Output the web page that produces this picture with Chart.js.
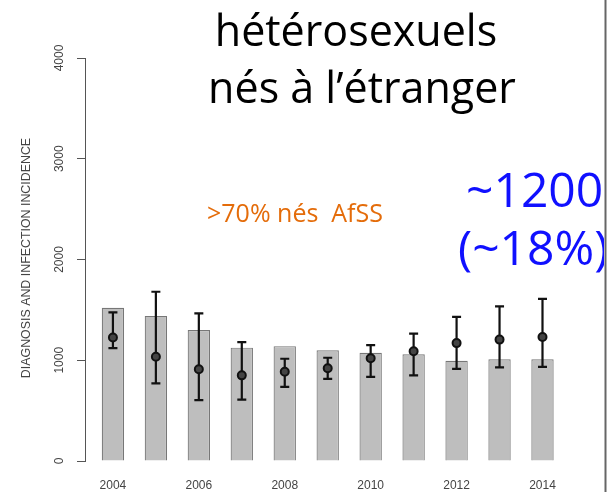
<!DOCTYPE html>
<html>
<head>
<meta charset="utf-8">
<script src="https://cdn.jsdelivr.net/npm/chart.js@4.4.1/dist/chart.umd.min.js"></script>
<style>
  html, body { margin: 0; padding: 0; background: #fff; }
  #wrap { width: 615px; height: 492px; position: relative; }
</style>
</head>
<body>
<div id="wrap"><canvas id="chart" width="615" height="492"></canvas></div>
<script>
// data
const years = [2004, 2005, 2006, 2007, 2008, 2009, 2010, 2011, 2012, 2013, 2014];
const diagnoses = [1520, 1440, 1300, 1125, 1140, 1100, 1075, 1060, 995, 1010, 1010];
const incidence = [1225, 1035, 910, 850, 885, 920, 1020, 1090, 1170, 1205, 1230];
const incLow = [1120, 770, 605, 610, 735, 815, 835, 850, 915, 930, 935];
const incHigh = [1475, 1680, 1465, 1180, 1015, 1025, 1150, 1265, 1430, 1535, 1610];
const xTickYears = [2004, 2006, 2008, 2010, 2012, 2014];
const yTicks = [0, 1000, 2000, 3000, 4000];

const titleLines = ['hétérosexuels', 'nés à l\u2019étranger'];
const yTitle = 'DIAGNOSIS AND INFECTION INCIDENCE';

const axisGray = '#555';

// error bars under the points
const errorBars = {
    id: 'errorBars',
    beforeDatasetDraw(chart, args) {
        if (args.index !== 1) return;
        const ctx = chart.ctx;
        const xs = chart.scales.x, ys = chart.scales.y;
        ctx.save();
        ctx.strokeStyle = '#111';
        ctx.lineWidth = 2.2;
        years.forEach((yr, i) => {
            const x = xs.getPixelForValue(yr);
            const y1 = ys.getPixelForValue(incLow[i]);
            const y2 = ys.getPixelForValue(incHigh[i]);
            ctx.beginPath();
            ctx.moveTo(x, y1); ctx.lineTo(x, y2);
            ctx.moveTo(x - 4.5, y1); ctx.lineTo(x + 4.5, y1);
            ctx.moveTo(x - 4.5, y2); ctx.lineTo(x + 4.5, y2);
            ctx.stroke();
        });
        ctx.restore();
    }
};

// rotated y labels, axis title, slide texts
const decorations = {
    id: 'decorations',
    afterDraw(chart) {
        const ctx = chart.ctx;
        const ys = chart.scales.y;
        ctx.save();

        ctx.fillStyle = '#444';
        ctx.font = '12px "Liberation Sans"';
        ctx.textAlign = 'center';
        ctx.textBaseline = 'middle';
        yTicks.forEach(v => {
            ctx.save();
            ctx.translate(60, ys.getPixelForValue(v));
            ctx.rotate(-Math.PI / 2);
            ctx.fillText(String(v), 0, 0);
            ctx.restore();
        });

        ctx.save();
        ctx.font = '12.4px "Liberation Sans"';
        ctx.translate(27, 258);
        ctx.rotate(-Math.PI / 2);
        ctx.fillText(yTitle, 0, 0);
        ctx.restore();

        // title
        ctx.fillStyle = '#000';
        ctx.font = '43px "Open Sans"';
        ctx.textBaseline = 'alphabetic';
        ctx.fillText(titleLines[0], 356, 46);
        ctx.fillText(titleLines[1], 362, 103);

        ctx.fillStyle = '#e46c0a';
        ctx.font = '25px "Open Sans"';
        ctx.textAlign = 'left';
        ctx.fillText('>70% nés  AfSS', 207, 222);

        // blue note, cut by the slide edge
        ctx.save();
        ctx.beginPath();
        ctx.rect(0, 0, 604, 492);
        ctx.clip();
        ctx.fillStyle = '#1010ff';
        ctx.font = '48px "Open Sans"';
        ctx.fillText('~1200', 466, 207);
        ctx.fillText('(~18%)', 458, 265);
        ctx.restore();

        ctx.strokeStyle = '#666';
        ctx.lineWidth = 2;
        ctx.beginPath();
        ctx.moveTo(605.5, 0); ctx.lineTo(605.5, 492);
        ctx.stroke();

        ctx.restore();
    }
};

const ctx = document.getElementById('chart').getContext('2d');

new Chart(ctx, {
    type: 'bar',
    data: {
        datasets: [{
            type: 'bar',
            label: 'Diagnoses',
            data: years.map((yr, i) => ({ x: yr, y: diagnoses[i] })),
            backgroundColor: '#bebebe',
            borderColor: '#777',
            borderWidth: 1.2,
            barPercentage: 0.52,
            categoryPercentage: 1,
            order: 2
        }, {
            type: 'line',
            label: 'Incidence',
            data: years.map((yr, i) => ({ x: yr, y: incidence[i] })),
            showLine: false,
            pointRadius: 4,
            pointBackgroundColor: '#444',
            pointBorderColor: '#111',
            pointBorderWidth: 2,
            order: 1
        }]
    },
    options: {
        responsive: false,
        animation: false,
        layout: { padding: { top: 58, right: 35, left: 0, bottom: 0 } },
        plugins: {
            legend: { display: false },
            tooltip: { enabled: false }
        },
        scales: {
            x: {
                type: 'linear',
                offset: false,
                min: 2003.35,
                max: 2014.873,
                grid: { display: false },
                border: { display: false },
                afterBuildTicks: scale => {
                    scale.ticks = xTickYears.map(v => ({ value: v }));
                },
                afterFit: scale => { scale.height = 31; },
                ticks: {
                    color: '#444',
                    font: { family: 'Liberation Sans', size: 12 },
                    padding: 9,
                    maxRotation: 0,
                    callback: v => String(v)
                }
            },
            y: {
                min: 0,
                max: 4000,
                afterBuildTicks: scale => {
                    scale.ticks = yTicks.map(v => ({ value: v }));
                },
                afterFit: scale => { scale.width = 85; },
                grid: {
                    display: true,
                    drawOnChartArea: false,
                    drawTicks: true,
                    tickLength: 8,
                    color: axisGray
                },
                border: { display: true, color: axisGray, width: 1 },
                ticks: { color: 'rgba(0,0,0,0)' }
            }
        }
    },
    plugins: [errorBars, decorations]
});
</script>
</body>
</html>
